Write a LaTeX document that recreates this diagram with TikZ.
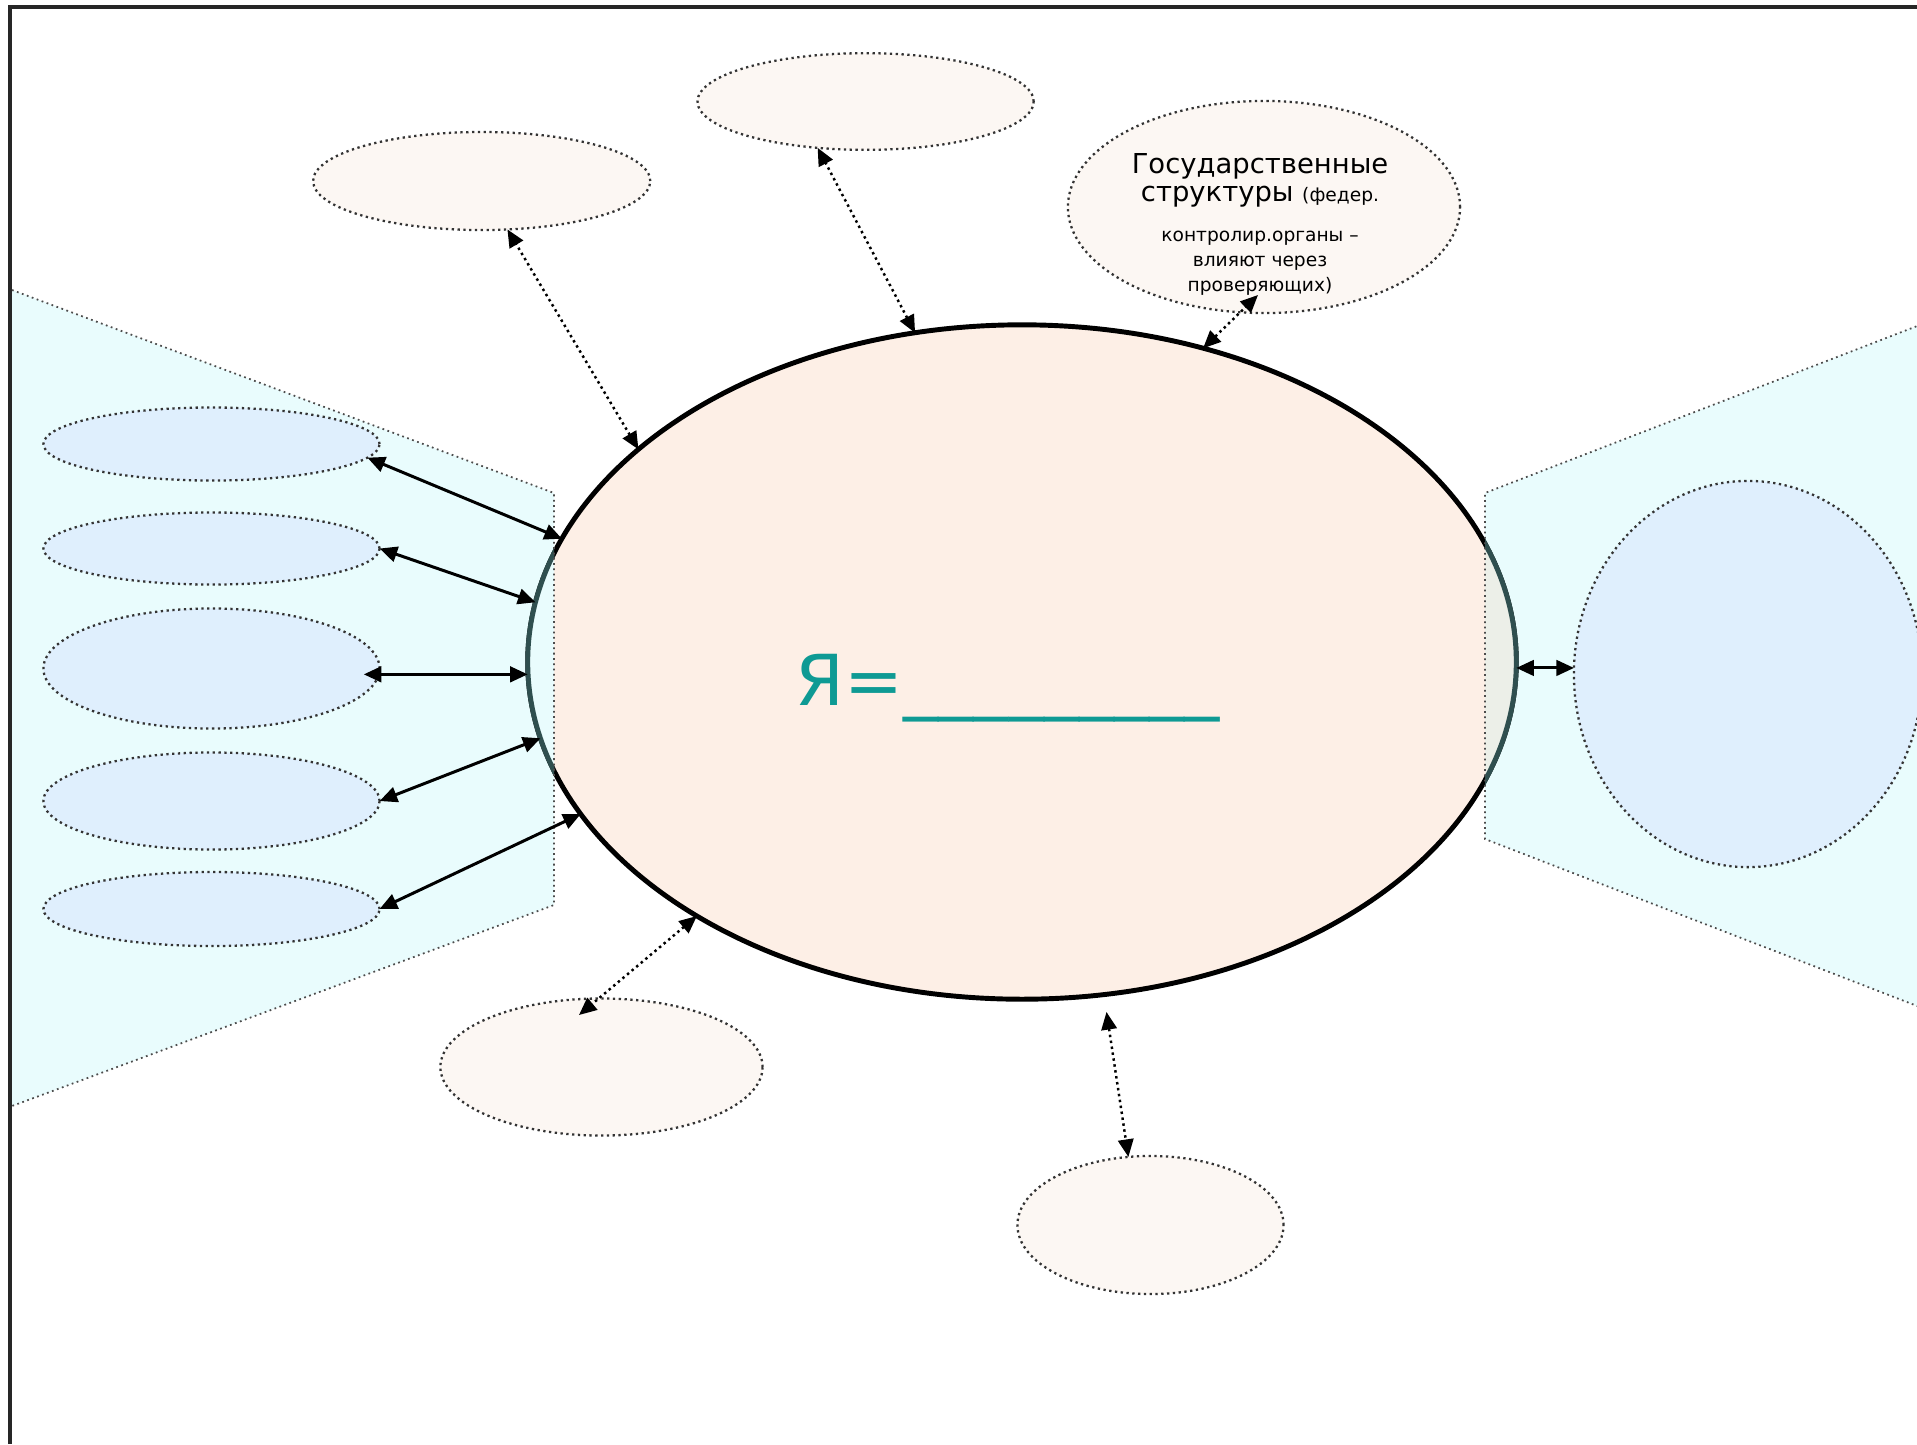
\documentclass[tikz,border=0pt]{standalone}
\usepackage{fontspec}
\setmainfont{DejaVu Sans}
\usetikzlibrary{arrows.meta,shapes.geometric,calc}
\definecolor{peach}{HTML}{FDEFE6}
\definecolor{cream}{HTML}{FCF7F3}
\definecolor{lblue}{HTML}{DFEFFD}
\definecolor{lcyan}{HTML}{E9FCFD}
\definecolor{ovlr}{HTML}{ECEFE8}
\definecolor{ovlline}{HTML}{2F4F4F}
\definecolor{tealtxt}{HTML}{0E9A94}
\setlength\parindent{0pt}
\tikzset{
  oval/.style={ellipse, inner sep=0pt, outer sep=0pt, draw=black!80, densely dotted, line width=0.65pt},
  creamoval/.style={oval, fill=cream},
  blueoval/.style={oval, fill=lblue},
  trapline/.style={draw=black!70, densely dotted, line width=0.5pt},
  tip/.tip={Triangle[length=5pt,width=4.4pt]},
  arr/.style={tip-tip, line width=0.85pt, draw=black},
  darr/.style={tip-tip, line width=0.7pt, draw=black, densely dotted}
}
\begin{document}
\begin{tikzpicture}[x=0.01cm,y=-0.01cm]
\useasboundingbox (0,0) rectangle (1917,1444);
\fill[white] (0,0) rectangle (1917,1444);
\begin{scope}
\clip (0,0) rectangle (1917,1444);
% side panels
\fill[lcyan] (12,290) -- (554,493) -- (554,905) -- (12,1106) -- cycle;
\fill[lcyan] (1485,493) -- (2000,294) -- (2000,1038) -- (1485,839) -- cycle;
% central ellipse
\node[ellipse, draw=black, line width=1.4pt, fill=peach, minimum width=9.88cm, minimum height=6.74cm, inner sep=0pt, outer sep=0pt] (big) at (1022,662) {};
\begin{scope}
\clip (12,290) -- (554,493) -- (554,905) -- (12,1106) -- cycle;
\draw[fill=lcyan, draw=ovlline, line width=1.4pt] (big.center) ellipse [x radius=4.94cm, y radius=3.37cm];
\end{scope}
\begin{scope}
\clip (1485,493) -- (2000,294) -- (2000,1038) -- (1485,839) -- cycle;
\draw[fill=ovlr, draw=ovlline, line width=1.4pt] (big.center) ellipse [x radius=4.94cm, y radius=3.37cm];
\end{scope}
\draw[trapline] (12,290) -- (554,493) -- (554,905) -- (12,1106);
\draw[trapline] (2000,294) -- (1485,493) -- (1485,839) -- (2000,1038);
% left ellipses
\node[blueoval, minimum width=3.36cm, minimum height=0.73cm] (l1) at (211.5,444) {};
\node[blueoval, minimum width=3.36cm, minimum height=0.72cm] (l2) at (211.5,548.5) {};
\node[blueoval, minimum width=3.36cm, minimum height=1.20cm] (l3) at (211.5,668.5) {};
\node[blueoval, minimum width=3.36cm, minimum height=0.97cm] (l4) at (211.5,801) {};
\node[blueoval, minimum width=3.36cm, minimum height=0.74cm] (l5) at (211.5,909) {};
% right ellipse
\node[blueoval, minimum width=3.48cm, minimum height=3.86cm] (rt) at (1748,674) {};
% top and bottom ellipses
\node[creamoval, minimum width=3.37cm, minimum height=0.98cm] (ta) at (481.7,181) {};
\node[creamoval, minimum width=3.36cm, minimum height=0.966cm] (tb) at (865.6,101.5) {};
\node[creamoval, minimum width=3.92cm, minimum height=2.12cm] (gov) at (1264,207) {};
\node[creamoval, minimum width=3.22cm, minimum height=1.37cm] (bd) at (601.5,1067) {};
\node[creamoval, minimum width=2.66cm, minimum height=1.38cm] (be) at (1150.5,1225) {};
% texts
\node[inner sep=0pt, anchor=north] (govtxt) at (1260,153) {\parbox{3.6cm}{\centering
\fontsize{7.8pt}{8.0pt}\selectfont Государственные\par
структуры {\fontsize{5.3pt}{8.0pt}\selectfont (федер.}\par
\fontsize{5.3pt}{11.3pt}\selectfont контролир.органы –\par
\fontsize{5.3pt}{7.1pt}\selectfont влияют через\par
проверяющих)\par}};
\node[anchor=base west, inner sep=0pt, text=tealtxt, font=\fontsize{20pt}{24pt}\selectfont] (me) at (795,705) {Я=\_\_\_\_\_\_\_\_\_};
% solid arrows
\draw[arr] (l1.-5) -- (big.165.7);
\draw[arr] (l2.east) -- (big.173.2);
\draw[arr, shorten <=-0.15cm] (l3.-2) -- (l3.-2 -| big.west);
\draw[arr] (l4.east) -- (big.189.4);
\draw[arr] (l5.east) -- (big.199.4);
\draw[arr] (rt.178 -| big.east) -- (rt.178);
% dotted arrows
\coordinate (govtip) at ($(gov.center)+(-6,88)$);
\coordinate (bdtip) at ($(bd.center)+(-22.5,-52)$);
\coordinate (bigbot) at ($(big.center)+(84.5,350)$);
\draw[darr] (big.151) -- (ta.-62);
\draw[darr] (big.108.5) -- (tb.224.3);
\draw[darr] (big.60.4) -- (govtip);
\draw[darr] (big.218.7) -- (bdtip);
\draw[darr] (bigbot) -- (be.108);
% frame
\draw[line width=0.9pt, black!85] (10,1444) -- (10,7) -- (1917,7);
\end{scope}
\end{tikzpicture}
\end{document}
